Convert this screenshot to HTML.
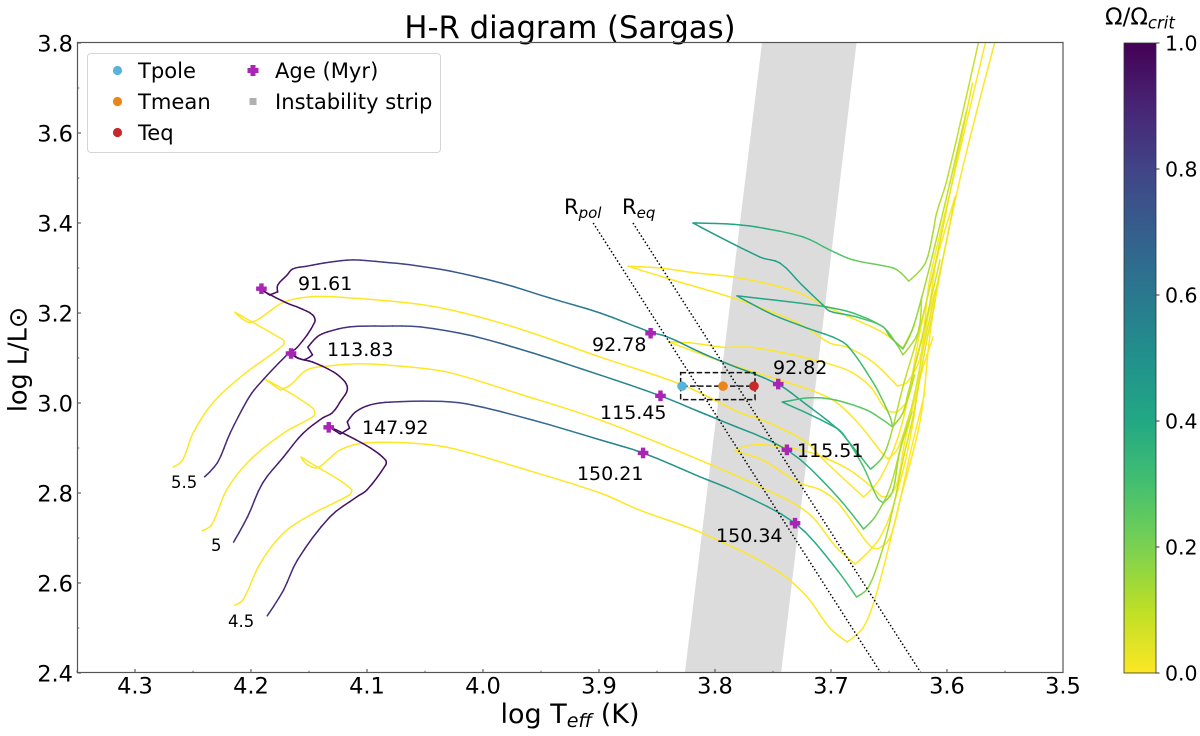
<!DOCTYPE html>
<html lang="en">
<head>
<meta charset="utf-8">
<title>H-R diagram (Sargas)</title>
<style>
html,body{margin:0;padding:0;background:#fff;width:1200px;height:736px;overflow:hidden}
svg{display:block}
text{font-family:"DejaVu Sans","Liberation Sans",sans-serif;fill:#000}
</style>
</head>
<body>
<svg id="chart" xmlns="http://www.w3.org/2000/svg" width="1200" height="736" viewBox="0 0 1200 736">
  <defs>
    <clipPath id="plot-clip"><rect x="77.5" y="42.5" width="985.5" height="630"/></clipPath>
    <linearGradient id="viridis-gradient" x1="0" y1="1" x2="0" y2="0">
      <stop offset="0" stop-color="#fde725"/><stop offset="0.1" stop-color="#bddf26"/>
      <stop offset="0.2" stop-color="#7ad151"/><stop offset="0.3" stop-color="#44bf70"/>
      <stop offset="0.4" stop-color="#22a884"/><stop offset="0.5" stop-color="#21918c"/>
      <stop offset="0.6" stop-color="#2a788e"/><stop offset="0.7" stop-color="#355f8d"/>
      <stop offset="0.8" stop-color="#414487"/><stop offset="0.9" stop-color="#482475"/>
      <stop offset="1" stop-color="#440154"/>
    </linearGradient>
  </defs>
  <text x="570" y="38" font-size="30.7" text-anchor="middle">H-R diagram (Sargas)</text>
  <g id="plot-clipped" clip-path="url(#plot-clip)"></g>
  <g id="axes"></g>
  <rect x="77.5" y="42.5" width="985.5" height="630" fill="none" stroke="#555" stroke-width="1.2"/>
  <text x="570" y="723" font-size="27" text-anchor="middle">log T<tspan font-size="19" font-style="italic" dy="4">eff</tspan><tspan dy="-4"> (K)</tspan></text>
  <text transform="translate(26.4,359.5) rotate(-90)" font-size="25.5" text-anchor="middle">log L/L⊙</text>
  <g>
    <rect x="87.5" y="53.5" width="353" height="99" rx="3.5" fill="#fff" fill-opacity="0.8" stroke="#d6d6d6" stroke-width="1"/>
    <circle cx="117.5" cy="70.5" r="4.6" fill="#56b4d9"/>
    <text x="138" y="78" font-size="21.1">Tpole</text>
    <circle cx="117.5" cy="101.5" r="4.6" fill="#e8861a"/>
    <text x="138" y="109" font-size="21.1">Tmean</text>
    <circle cx="117.5" cy="132.5" r="4.6" fill="#c9282b"/>
    <text x="138" y="140" font-size="21.1">Teq</text>
    <path d="M250.5 65h5v3h3v5h-3v3h-5v-3h-3v-5h3z" fill="#a825b5"/>
    <text x="275" y="78" font-size="21.1">Age (Myr)</text>
    <rect x="249.5" y="98" width="7" height="7" fill="#b0b0b0"/>
    <text x="275" y="109" font-size="21.1">Instability strip</text>
  </g>
  <rect x="1124" y="43" width="32" height="630" fill="url(#viridis-gradient)" stroke="#333" stroke-width="0.8"/>
  <g id="colorbar-ticks"></g>
  <text x="1105" y="24.5" font-size="23">Ω/Ω<tspan font-size="16.5" font-style="italic" dy="4">crit</tspan></text>
</svg>
<script>
// Axis data
const xTickValues = [4.3, 4.2, 4.1, 4.0, 3.9, 3.8, 3.7, 3.6, 3.5];
const xMinorValues = [4.35, 4.25, 4.15, 4.05, 3.95, 3.85, 3.75, 3.65, 3.55];
const yTickValues = [2.4, 2.6, 2.8, 3.0, 3.2, 3.4, 3.6, 3.8];
const yMinorValues = [2.5, 2.7, 2.9, 3.1, 3.3, 3.5, 3.7];
const colorbarTickValues = [0.0, 0.2, 0.4, 0.6, 0.8, 1.0];

// Instability strip edges
const stripLogL = [2.4, 3.8];
const stripBlueEdgeLogT = [3.826, 3.7595];
const stripRedEdgeLogT = [3.743, 3.678];

// Critical radius lines
const rPolLogT = [3.905, 3.657];
const rPolLogL = [3.4, 2.4];
const rEqLogT = [3.8707, 3.6224];
const rEqLogL = [3.4, 2.4];

// Rotating 5.5 main track
const r55LogT = [4.240,4.229,4.218,4.203,4.195,4.169,4.160,4.145,4.147,4.158,4.169,4.188,4.191,4.184,4.177,4.177,4.169,4.164,4.152,4.132,4.112,4.086,4.063,4.028,3.985,3.942,3.899,3.856,3.841,3.813,3.793,3.746,3.722,3.695,3.686,3.666,3.656,3.649,3.638,3.625,3.610,3.597,3.578];
const r55LogL = [2.836,2.867,2.933,3.007,3.036,3.107,3.124,3.180,3.196,3.211,3.222,3.247,3.253,3.240,3.247,3.262,3.284,3.298,3.304,3.313,3.318,3.313,3.307,3.293,3.267,3.233,3.200,3.158,3.147,3.113,3.091,3.042,2.998,2.944,2.918,2.853,2.878,2.924,3.036,3.151,3.311,3.473,3.711];
const r55Omega = [.87,.87,.88,.89,.9,.93,.95,.97,.97,.97,.97,.97,.97,.97,.97,.96,.95,.93,.9,.87,.85,.82,.8,.74,.68,.62,.57,.52,.51,.5,.49,.46,.43,.38,.36,.3,.2,.14,.1,.07,.05,.03,.02];

// Rotating 5.5 blue loop
const r55LoopLogT = [3.573,3.600,3.609,3.612,3.619,3.633,3.643,3.653,3.681,3.701,3.724,3.764,3.790,3.819,3.761,3.744,3.725,3.707,3.701,3.686,3.675,3.655,3.643,3.638,3.625,3.622];
const r55LoopLogL = [3.800,3.496,3.422,3.380,3.309,3.271,3.296,3.304,3.318,3.340,3.369,3.391,3.398,3.400,3.324,3.311,3.262,3.218,3.204,3.196,3.189,3.169,3.129,3.107,3.156,3.233];
const r55LoopOmega = [.08,.1,.12,.13,.15,.15,.2,.22,.25,.3,.34,.38,.42,.46,.44,.43,.42,.4,.38,.34,.3,.24,.18,.15,.12,.1];

// Rotating 5 main track
const r5LogT = [4.215,4.203,4.190,4.172,4.155,4.138,4.130,4.122,4.117,4.119,4.129,4.147,4.160,4.166,4.155,4.147,4.151,4.143,4.134,4.115,4.086,4.054,4.009,3.957,3.899,3.847,3.813,3.796,3.738,3.698,3.672,3.662,3.649,3.638,3.629,3.619,3.602,3.593];
const r5LogL = [2.691,2.747,2.822,2.880,2.933,2.967,2.978,3.007,3.029,3.047,3.069,3.091,3.100,3.111,3.096,3.107,3.124,3.147,3.158,3.169,3.171,3.169,3.149,3.111,3.062,3.016,2.980,2.962,2.896,2.802,2.720,2.747,2.813,2.924,3.007,3.140,3.340,3.458];
const r5Omega = [.87,.88,.9,.92,.94,.95,.96,.97,.97,.97,.97,.97,.97,.97,.97,.97,.96,.95,.93,.87,.8,.77,.72,.66,.58,.52,.5,.49,.44,.34,.28,.2,.12,.08,.05,.04,.03,.02];

// Rotating 5 blue loop
const r5LoopLogT = [3.583,3.602,3.619,3.630,3.638,3.649,3.655,3.681,3.703,3.721,3.750,3.781,3.750,3.721,3.690,3.678,3.669,3.660,3.649,3.647,3.638,3.628];
const r5LoopLogL = [3.651,3.440,3.262,3.162,3.120,3.147,3.169,3.200,3.213,3.220,3.229,3.238,3.196,3.167,3.136,3.102,3.067,3.029,2.969,2.947,2.978,3.062];
const r5LoopOmega = [.05,.1,.13,.18,.22,.25,.28,.3,.35,.37,.4,.43,.42,.4,.38,.33,.3,.27,.2,.18,.12,.08];

// Rotating 4.5 main track
const r45LogT = [4.186,4.172,4.160,4.132,4.109,4.100,4.084,4.084,4.097,4.123,4.133,4.123,4.115,4.117,4.110,4.097,4.080,4.043,4.014,3.957,3.899,3.862,3.813,3.781,3.731,3.698,3.678,3.668,3.655,3.645,3.638,3.629,3.619,3.610];
const r45LogL = [2.527,2.584,2.651,2.747,2.791,2.807,2.862,2.873,2.900,2.936,2.947,2.931,2.944,2.958,2.980,2.996,3.002,3.004,2.998,2.962,2.918,2.889,2.836,2.802,2.733,2.640,2.569,2.589,2.680,2.784,2.873,2.973,3.118,3.229];
const r45Omega = [.86,.88,.9,.93,.95,.96,.97,.97,.97,.97,.97,.97,.97,.96,.94,.92,.88,.8,.76,.66,.58,.52,.48,.46,.42,.36,.27,.18,.13,.1,.07,.05,.04,.03];

// Rotating 4.5 blue loop
const r45LoopLogT = [3.606,3.623,3.634,3.638,3.647,3.655,3.669,3.692,3.707,3.721,3.731,3.742,3.695,3.686,3.672,3.660,3.655,3.647,3.641,3.630];
const r45LoopLogL = [3.318,3.129,3.018,2.978,2.947,2.962,2.984,3.004,3.011,3.011,3.007,3.002,2.944,2.918,2.858,2.789,2.778,2.802,2.889,2.980];
const r45LoopOmega = [.05,.08,.1,.12,.18,.24,.26,.27,.28,.3,.32,.4,.38,.35,.28,.22,.2,.17,.12,.08];

// Non-rotating 5.5 main track
const y55LogT = [4.267,4.259,4.250,4.233,4.207,4.172,4.172,4.184,4.199,4.214,4.203,4.195,4.172,4.149,4.129,4.063,4.028,3.971,3.899,3.828,3.778,3.759,3.721,3.709,3.672,3.658,3.643,3.634,3.623,3.609,3.593];
const y55LogL = [2.858,2.873,2.933,3.000,3.062,3.129,3.140,3.158,3.180,3.202,3.180,3.184,3.224,3.236,3.236,3.222,3.207,3.167,3.102,3.040,2.978,2.962,2.913,2.880,2.791,2.831,2.918,3.007,3.162,3.318,3.458];

// Non-rotating 5 main track
const y5LogT = [4.242,4.234,4.221,4.201,4.172,4.147,4.145,4.147,4.166,4.188,4.175,4.166,4.152,4.134,4.106,4.063,4.028,3.971,3.899,3.813,3.759,3.720,3.695,3.679,3.658,3.643,3.629,3.619,3.615,3.597,3.567];
const y5LogL = [2.716,2.729,2.807,2.873,2.933,2.969,2.978,2.989,3.022,3.053,3.029,3.040,3.073,3.082,3.087,3.080,3.067,3.022,2.962,2.873,2.811,2.756,2.678,2.642,2.700,2.800,2.962,3.184,3.273,3.473,3.800];

// Non-rotating 4.5 main track
const y45LogT = [4.214,4.207,4.192,4.172,4.149,4.115,4.113,4.121,4.143,4.157,4.152,4.143,4.134,4.123,4.103,4.063,4.028,3.971,3.899,3.865,3.813,3.750,3.722,3.701,3.686,3.672,3.660,3.641,3.623,3.613,3.591,3.559];
const y45LogL = [2.551,2.562,2.644,2.711,2.751,2.796,2.807,2.824,2.858,2.880,2.864,2.856,2.873,2.896,2.911,2.911,2.900,2.858,2.800,2.762,2.713,2.633,2.573,2.500,2.469,2.502,2.584,2.778,2.962,3.184,3.473,3.800];

// Non-rotating blue loops
const y55LoopLogT = [3.610,3.623,3.634,3.643,3.664,3.686,3.701,3.721,3.738,3.784,3.836,3.865,3.875,3.847,3.817,3.784,3.750,3.727,3.703,3.684,3.655,3.638,3.628];
const y55LoopLogL = [3.311,3.102,3.047,3.038,3.091,3.124,3.133,3.167,3.189,3.233,3.273,3.296,3.304,3.300,3.289,3.280,3.262,3.244,3.213,3.191,3.156,3.122,3.173];
const y5LoopLogT = [3.610,3.626,3.634,3.643,3.652,3.666,3.686,3.721,3.744,3.770,3.793,3.819,3.840,3.793,3.764,3.703,3.679,3.656,3.651,3.643,3.634];
const y5LoopLogL = [3.251,3.102,3.007,2.980,2.984,3.036,3.073,3.100,3.113,3.124,3.124,3.133,3.136,3.091,3.067,3.013,2.962,2.889,2.876,2.896,2.962];
const y45LoopLogT = [3.612,3.622,3.636,3.643,3.649,3.656,3.669,3.684,3.707,3.727,3.759,3.774,3.783,3.759,3.727,3.709,3.694,3.675,3.665,3.658,3.649,3.641,3.630,3.619];
const y45LoopLogL = [3.147,3.067,2.918,2.822,2.796,2.791,2.822,2.851,2.880,2.896,2.907,2.904,2.893,2.873,2.822,2.807,2.778,2.711,2.680,2.678,2.702,2.778,2.907,3.024];

// Age markers
const ageLabels = ["91.61","92.78","92.82","113.83","115.45","115.51","147.92","150.21","150.34"];
const ageLogT = [4.191,3.8555,3.7455,4.1655,3.847,3.738,4.133,3.862,3.731];
const ageLogL = [3.254,3.155,3.042,3.110,3.016,2.896,2.946,2.889,2.733];

// Sargas temperature points
const sargasNames = ["tpole","tmean","teq"];
const sargasLogT = [3.8284,3.7931,3.7664];
const sargasLogL = [3.0375,3.0375,3.0375];
const sargasColors = ["#56b4d9","#e8861a","#c9282b"];
const boxLogT = [3.8296,3.7655];
const boxLogL = [3.0075,3.0675];

const NS = "http://www.w3.org/2000/svg";
const plot = document.getElementById("plot-clipped");
const axes = document.getElementById("axes");
const cbTicks = document.getElementById("colorbar-ticks");
const sx = v => 1063 - (v - 3.5) * 1160;
const sy = v => 673 - (v - 2.4) * 450;
const cbY = v => 673 - v * 630;
const viridis = ["#440154","#482475","#414487","#355f8d","#2a788e","#21918c","#22a884","#44bf70","#7ad151","#bddf26","#fde725"];
function omegaColor(om) {
  const p = Math.max(0, Math.min(1, 1 - om)) * 10;
  const i = Math.min(9, Math.floor(p));
  const f = p - i;
  const a = viridis[i], b = viridis[i + 1];
  const ch = k => Math.round(parseInt(a.substr(k, 2), 16) * (1 - f) + parseInt(b.substr(k, 2), 16) * f);
  return "rgb(" + ch(1) + "," + ch(3) + "," + ch(5) + ")";
}
function make(tag, parent, props) {
  const el = document.createElementNS(NS, tag);
  for (const k in props) el.setAttribute(k, props[k]);
  parent.appendChild(el);
  return el;
}
// Bezier control tangents for a track: smooth except at sharp corners
function tangents(xs, ys) {
  return xs.map((x, i) => {
    if (i === 0 || i === xs.length - 1) return [0, 0];
    const ax = x - xs[i - 1], ay = ys[i] - ys[i - 1];
    const bx = xs[i + 1] - x, by = ys[i + 1] - ys[i];
    const la = Math.hypot(ax, ay) || 1, lb = Math.hypot(bx, by) || 1;
    const cos = (ax * bx + ay * by) / (la * lb);
    if (cos < 0.55) return [0, 0];
    const lc = Math.hypot(ax + bx, ay + by) || 1;
    const ux = (ax + bx) / lc, uy = (ay + by) / lc;
    return [ux, uy, Math.min(la, lb)];
  });
}
function bezierAt(p0, c1, c2, p3, u) {
  const v = 1 - u;
  return v * v * v * p0 + 3 * v * v * u * c1 + 3 * v * u * u * c2 + u * u * u * p3;
}

// Instability strip
const stripPts = [
  [sx(stripBlueEdgeLogT[0]), sy(stripLogL[0])],
  [sx(stripBlueEdgeLogT[1]), sy(stripLogL[1])],
  [sx(stripRedEdgeLogT[1]), sy(stripLogL[1])],
  [sx(stripRedEdgeLogT[0]), sy(stripLogL[0])]
];
const stripEl = make("polygon", plot, {points: stripPts.map(p => p.join(",")).join(" "), fill: "#dcdcdc"});



// Tracks
const tracks = [
  {id: "5.5-nonrotating", t: y55LogT, l: y55LogL},
  {id: "5-nonrotating", t: y5LogT, l: y5LogL},
  {id: "4.5-nonrotating", t: y45LogT, l: y45LogL},
  {id: "5.5-nonrotating-loop", t: y55LoopLogT, l: y55LoopLogL},
  {id: "5-nonrotating-loop", t: y5LoopLogT, l: y5LoopLogL},
  {id: "4.5-nonrotating-loop", t: y45LoopLogT, l: y45LoopLogL},
  {id: "5.5-rotating", t: r55LogT, l: r55LogL, o: r55Omega},
  {id: "5-rotating", t: r5LogT, l: r5LogL, o: r5Omega},
  {id: "4.5-rotating", t: r45LogT, l: r45LogL, o: r45Omega},
  {id: "5.5-rotating-loop", t: r55LoopLogT, l: r55LoopLogL, o: r55LoopOmega},
  {id: "5-rotating-loop", t: r5LoopLogT, l: r5LoopLogL, o: r5LoopOmega},
  {id: "4.5-rotating-loop", t: r45LoopLogT, l: r45LoopLogL, o: r45LoopOmega}
];
const SUBSTEPS = 4;
tracks.forEach(tr => {
  const xs = tr.t.map(sx), ys = tr.l.map(sy);
  const tan = tangents(xs, ys);
  const ctrl = (i, sign) => {
    const k = tan[i];
    if (k.length < 3) return [xs[i], ys[i]];
    const next = sign > 0 ? i + 1 : i - 1;
    const d = Math.hypot(xs[next] - xs[i], ys[next] - ys[i]) / 3;
    return [xs[i] + sign * k[0] * d, ys[i] + sign * k[1] * d];
  };
  const g = make("g", plot, {fill: "none", "stroke-width": "1.5", "stroke-linecap": "round", "stroke-linejoin": "round"});
  
  
  if (!tr.o) {
    let d = "M" + xs[0].toFixed(1) + " " + ys[0].toFixed(1);
    for (let i = 0; i + 1 < xs.length; i++) {
      const c1 = ctrl(i, 1), c2 = ctrl(i + 1, -1);
      d += "C" + c1[0].toFixed(1) + " " + c1[1].toFixed(1) + " " + c2[0].toFixed(1) + " " + c2[1].toFixed(1) + " " + xs[i + 1].toFixed(1) + " " + ys[i + 1].toFixed(1);
    }
    const seg = make("path", g, {d: d, stroke: omegaColor(0)});
    
    
    return;
  }
  for (let i = 0; i + 1 < xs.length; i++) {
    const c1 = ctrl(i, 1), c2 = ctrl(i + 1, -1);
    for (let s = 0; s < SUBSTEPS; s++) {
      const u0 = s / SUBSTEPS, u1 = (s + 1) / SUBSTEPS;
      const um = (u0 + u1) / 2;
      const om = tr.o[i] + (tr.o[i + 1] - tr.o[i]) * um;
      const seg = make("line", g, {
        x1: bezierAt(xs[i], c1[0], c2[0], xs[i + 1], u0).toFixed(1),
        y1: bezierAt(ys[i], c1[1], c2[1], ys[i + 1], u0).toFixed(1),
        x2: bezierAt(xs[i], c1[0], c2[0], xs[i + 1], u1).toFixed(1),
        y2: bezierAt(ys[i], c1[1], c2[1], ys[i + 1], u1).toFixed(1),
        stroke: omegaColor(om)
      });
      
      
    }
  }
});

// Radius lines
[[rPolLogT, rPolLogL, "r-pol-line"], [rEqLogT, rEqLogL, "r-eq-line"]].forEach(r => {
  const ln = make("line", plot, {x1: sx(r[0][0]), y1: sy(r[1][0]), x2: sx(r[0][1]), y2: sy(r[1][1]), stroke: "#000", "stroke-width": "1.5", "stroke-dasharray": "1.5 2.2"});
  
  
});

// Dashed box and centre line
const boxEl = make("rect", plot, {x: sx(boxLogT[0]), y: sy(boxLogL[1]), width: sx(boxLogT[1]) - sx(boxLogT[0]), height: sy(boxLogL[0]) - sy(boxLogL[1]), fill: "none", stroke: "#111", "stroke-width": "1.5", "stroke-dasharray": "5.5 2.5"});


const midEl = make("line", plot, {x1: sx(sargasLogT[0]), y1: sy(sargasLogL[0]), x2: sx(sargasLogT[2]), y2: sy(sargasLogL[2]), stroke: "#111", "stroke-width": "1.5", "stroke-dasharray": "5.5 2.5"});



// Sargas points
sargasLogT.forEach((t, i) => {
  const c = make("circle", plot, {cx: sx(t), cy: sy(sargasLogL[i]), r: 4.8, fill: sargasColors[i]});
  
  
});

// Age markers (filled plus)
ageLabels.forEach((lab, i) => {
  const x = sx(ageLogT[i]), y = sy(ageLogL[i]);
  const m = make("path", plot, {d: "M" + (x - 2.2) + " " + (y - 5.3) + "h4.4v3.1h3.1v4.4h-3.1v3.1h-4.4v-3.1h-3.1v-4.4h3.1z", fill: "#a825b5"});
  
  
});

// Age labels
const chartRoot = document.getElementById("chart");
const agePrintT = [4.1595,3.906,3.75,4.1345,3.8991,3.7293,4.1043,3.919,3.7991];
const agePrintL = [3.2511,3.1156,3.0644,3.1044,2.9644,2.88,2.9311,2.8289,2.6911];
ageLabels.forEach((lab, i) => {
  const t = make("text", chartRoot, {x: sx(agePrintT[i]), y: sy(agePrintL[i]), "font-size": "19"});
  t.textContent = lab;
  
  
});

// Mass labels
const massLabels = ["5.5","5","4.5"];
const massPrintT = [4.269,4.2345,4.2198];
const massPrintL = [2.8111,2.6711,2.5022];
massLabels.forEach((lab, i) => {
  const t = make("text", chartRoot, {x: sx(massPrintT[i]), y: sy(massPrintL[i]), "font-size": "16.5"});
  t.textContent = lab;
  
  
});

// Axes
xTickValues.forEach(v => {
  const tk = make("line", axes, {x1: sx(v), x2: sx(v), y1: 672.5, y2: 669, stroke: "#444", "stroke-width": "1"});
  
  
  const t = make("text", axes, {x: sx(v), y: 693.5, "font-size": "22.5", "text-anchor": "middle"});
  t.textContent = v.toFixed(1);
  
  
});
xMinorValues.forEach(v => {
  const tk = make("line", axes, {x1: sx(v), x2: sx(v), y1: 672.5, y2: 670.7, stroke: "#444", "stroke-width": "0.8"});
  
  
});
yTickValues.forEach(v => {
  const tk = make("line", axes, {x1: 77.5, x2: 81, y1: sy(v), y2: sy(v), stroke: "#444", "stroke-width": "1"});
  
  
  const t = make("text", axes, {x: 73, y: sy(v) + 8.3, "font-size": "22.5", "text-anchor": "end"});
  t.textContent = v.toFixed(1);
  
  
});
yMinorValues.forEach(v => {
  const tk = make("line", axes, {x1: 77.5, x2: 79.3, y1: sy(v), y2: sy(v), stroke: "#444", "stroke-width": "0.8"});
  
  
});

// Colorbar ticks
colorbarTickValues.forEach(v => {
  const tk = make("line", cbTicks, {x1: 1156, x2: 1159.5, y1: cbY(v), y2: cbY(v), stroke: "#333", "stroke-width": "1"});
  
  
  const t = make("text", cbTicks, {x: 1165, y: cbY(v) + 7.5, "font-size": "20.5"});
  t.textContent = v.toFixed(1);
  
  
});

// R labels
const rpol = make("text", chartRoot, {x: 564, y: 214, "font-size": "21"});
rpol.innerHTML = 'R<tspan font-size="15" font-style="italic" dy="4">pol</tspan>';


const req = make("text", chartRoot, {x: 622, y: 214, "font-size": "21"});
req.innerHTML = 'R<tspan font-size="15" font-style="italic" dy="4">eq</tspan>';


</script>
</body>
</html>
